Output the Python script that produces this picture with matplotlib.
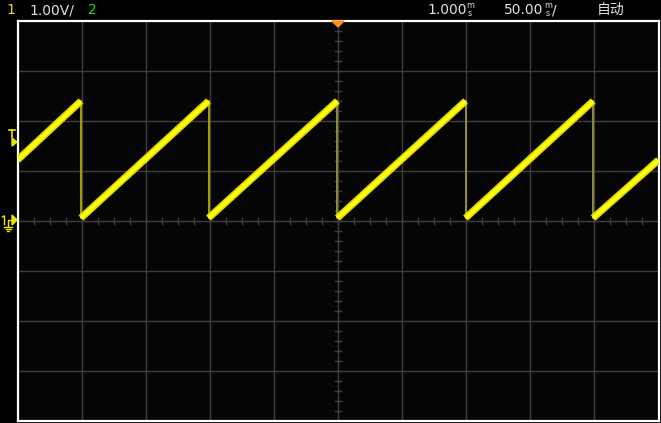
import numpy as np
import matplotlib.pyplot as plt
from matplotlib.patches import Polygon

# scope settings
volts_per_div = 1.00
time_per_div = 50.0  # per division, displayed as 50.00ms/
n_hdiv = 10
n_vdiv = 8

# sawtooth trace: vertices (time, volts), falling edges at each drop time
drop_times = [-200.5, -101.0, -0.5, 99.5, 199.0]
peak_v = 2.40
trough_v = 0.06
start_v = 1.22
end_v = 1.22
trigger_v = 1.50

header_left = ["1", "1.00V/", "2"]
header_right = ["1.000", "50.00", "自动"]

W, H = 661, 423
fig = plt.figure(figsize=(W / 100, H / 100), dpi=100)
fig.patch.set_facecolor("black")

# screen area
ax = fig.add_axes([17.5 / W, 2 / H, 641 / W, 400 / H])
ax.set_facecolor("#050505")
half_t = n_hdiv / 2 * time_per_div
half_v = n_vdiv / 2 * volts_per_div
ax.set_xlim(-half_t, half_t)
ax.set_ylim(-half_v, half_v)
ax.set_xticks([])
ax.set_yticks([])
for s in ax.spines.values():
    s.set_color("white")
    s.set_linewidth(1.6)

grid_c = "#3e3e3e"
for k in range(1, n_hdiv):
    ax.axvline(-half_t + k * time_per_div, color=grid_c, lw=1.0, zorder=1)
for k in range(1, n_vdiv):
    ax.axhline(-half_v + k * volts_per_div, color=grid_c, lw=1.0, zorder=1)

# minor ticks on the centre lines
tx = np.arange(-half_t, half_t + 1e-9, time_per_div / 4)
ty = np.arange(-half_v, half_v + 1e-9, volts_per_div / 5)
dv = 0.06 * volts_per_div
dt = 3 / 64 * time_per_div
for x in tx:
    ax.plot([x, x], [-dv, dv], color=grid_c, lw=1.0, zorder=1)
for y in ty:
    ax.plot([-dt, dt], [y, y], color=grid_c, lw=1.0, zorder=1)

# build ramp segments and falling edges
ramps = []
t0, v0 = -half_t, start_v
for td in drop_times:
    ramps.append(([t0, td], [v0, peak_v]))
    t0, v0 = td, trough_v
ramps.append(([t0, half_t], [v0, end_v]))

for i, td in enumerate(drop_times):
    c = "#b4ac00" if i < 2 else "#9a9640"
    ax.plot([td, td], [peak_v, trough_v], color=c, lw=1.3, zorder=2)

for ts, vs in ramps:
    ax.plot(ts, vs, color="#dcd800", lw=5.2, solid_capstyle="butt", zorder=3)
    ax.plot(ts, vs, color="#ffff10", lw=2.8, solid_capstyle="butt", zorder=4)

# overlay in pixel coordinates for the header and markers
ov = fig.add_axes([0, 0, 1, 1])
ov.set_xlim(0, W)
ov.set_ylim(H, 0)
ov.axis("off")
ov.patch.set_alpha(0)

num_font = ["DejaVu Sans"]
fs = 10
txt_c = "#e0e0e0"
ov.text(6, 10, header_left[0], color="#e8e800", fontsize=fs, family=num_font, va="center")
ov.text(29, 10, header_left[1], color=txt_c, fontsize=fs, family=num_font, va="center")
ov.text(88, 10, header_left[2], color="#20e020", fontsize=fs, family=num_font, va="center")

ov.text(427, 10, header_right[0], color=txt_c, fontsize=fs, family=num_font, va="center")
ov.text(470, 5.5, "m", color=txt_c, fontsize=5.8, family=num_font, ha="center", va="center")
ov.text(470, 14, "s", color=txt_c, fontsize=5.8, family=num_font, ha="center", va="center")

ov.text(504, 10, header_right[1], color=txt_c, fontsize=fs, family=num_font, va="center")
ov.text(548, 5.5, "m", color=txt_c, fontsize=5.8, family=num_font, ha="center", va="center")
ov.text(548, 14, "s", color=txt_c, fontsize=5.8, family=num_font, ha="center", va="center")
ov.text(552, 10, "/", color=txt_c, fontsize=fs, family=num_font, va="center")

ov.text(597, 10, header_right[2], color=txt_c, fontsize=10,
        family=["Noto Sans CJK SC", "DejaVu Sans"], va="center")

# trigger position marker (orange)
ov.add_patch(Polygon([[332, 21], [344, 21], [338, 27]], closed=True, color="#ff8c1a", zorder=5))

# trigger level marker "T"
ty_px = 221 - trigger_v / volts_per_div * 50
ov.plot([9, 15], [ty_px - 16, ty_px - 16], color="#e8e800", lw=1.2)
ov.plot([12, 12], [ty_px - 16, ty_px - 9], color="#e8e800", lw=1.2)
ov.add_patch(Polygon([[12, ty_px - 8], [17, ty_px - 4], [12, ty_px]], closed=True, color="#e8e800"))

# channel 1 ground marker
gy = 220
ov.add_patch(Polygon([[12, gy - 5], [17, gy], [12, gy + 5]], closed=True, color="#e8e800"))
ov.plot([4, 4], [gy - 4, gy + 4], color="#e8e800", lw=1.0)
ov.plot([2.5, 4], [gy - 3, gy - 4], color="#e8e800", lw=1.0)
ov.plot([8, 8, 12], [gy + 6, gy, gy], color="#e8e800", lw=1.0)
ov.plot([4, 12], [gy + 7, gy + 7], color="#e8e800", lw=1.0)
ov.plot([5.5, 10.5], [gy + 9, gy + 9], color="#e8e800", lw=1.0)
ov.plot([7, 9], [gy + 11, gy + 11], color="#e8e800", lw=1.0)

fig.savefig("out.png", dpi=100, facecolor="black")
